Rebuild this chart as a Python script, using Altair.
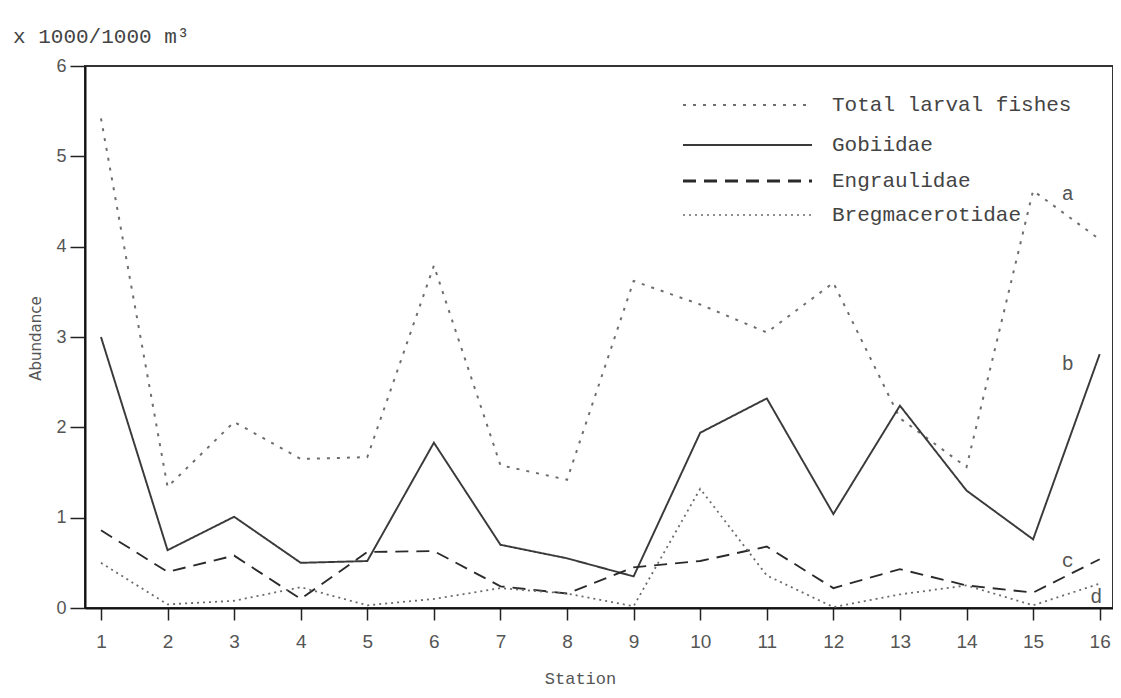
import altair as alt
import pandas as pd

# ---- data ----
stations = list(range(1, 17))
total_larval = [5.42, 1.34, 2.06, 1.65, 1.67, 3.79, 1.58, 1.42, 3.62, 3.36, 3.05, 3.60, 2.10, 1.56, 4.62, 4.08]
gobiidae = [3.00, 0.64, 1.01, 0.50, 0.52, 1.83, 0.70, 0.55, 0.35, 1.94, 2.32, 1.04, 2.24, 1.30, 0.76, 2.81]
engraulidae = [0.86, 0.40, 0.58, 0.10, 0.62, 0.63, 0.24, 0.16, 0.45, 0.52, 0.68, 0.22, 0.43, 0.25, 0.17, 0.54]
bregmacerotidae = [0.50, 0.04, 0.08, 0.23, 0.03, 0.10, 0.22, 0.16, 0.02, 1.32, 0.36, 0.01, 0.15, 0.25, 0.03, 0.27]

series_names = ["Total larval fishes", "Gobiidae", "Engraulidae", "Bregmacerotidae"]
series_values = [total_larval, gobiidae, engraulidae, bregmacerotidae]

ann_labels = ["a", "b", "c", "d"]
ann_x = [15.52, 15.52, 15.52, 15.95]
ann_y = [4.58, 2.70, 0.52, 0.12]

y_ticks = [0, 1, 2, 3, 4, 5, 6]

# ---- styles ----
colors = ["#6e6e6e", "#3a3a3a", "#2a2a2a", "#6a6a6a"]
dashes = [[3, 7], [1, 0], [13, 8], [2, 4]]
widths = [2.0, 1.8, 3.2, 1.5]

rows = []
for name, vals in zip(series_names, series_values):
    for s, v in zip(stations, vals):
        rows.append({"station": s, "value": v, "series": name})
df = pd.DataFrame(rows)

x_scale = alt.Scale(domain=[0.76, 16.2], nice=False, zero=False)
y_scale = alt.Scale(domain=[0, 6], nice=False)

lines = alt.Chart(df).mark_line(clip=False).encode(
    x=alt.X("station:Q", scale=x_scale,
            axis=alt.Axis(values=stations, format="d", title="Station", grid=False,
                          domainColor="#111", domainWidth=2, tickColor="#222", tickWidth=1.5,
                          tickSize=12, labelPadding=12, labelFont="Liberation Sans",
                          labelFontSize=19, labelColor="#555", labelFlush=False,
                          titleFont="Liberation Mono", titleFontSize=17, titleFontWeight="normal",
                          titleColor="#555", titleX=495, titleY=70, titleBaseline="middle",
                          titleAlign="center")),
    y=alt.Y("value:Q", scale=y_scale,
            axis=alt.Axis(values=y_ticks, format="d", title="Abundance", grid=False,
                          domainColor="#111", domainWidth=2, tickColor="#222", tickWidth=1.5,
                          tickSize=15, labelPadding=4, labelFont="Liberation Sans",
                          labelFontSize=18, labelColor="#555",
                          titleFont="DejaVu Sans", titleFontSize=15, titleFontWeight="normal",
                          titleColor="#555", titleX=-50, titleY=272, titleAngle=-90,
                          titleAlign="center", titleBaseline="middle")),
    color=alt.Color("series:N", scale=alt.Scale(domain=series_names, range=colors), legend=None),
    strokeDash=alt.StrokeDash("series:N", scale=alt.Scale(domain=series_names, range=dashes), legend=None),
    strokeWidth=alt.StrokeWidth("series:N", scale=alt.Scale(domain=series_names, range=widths), legend=None),
)

ann_df = pd.DataFrame({"label": ann_labels, "x": ann_x, "y": ann_y})
annotations = alt.Chart(ann_df).mark_text(
    font="Liberation Mono", fontSize=20, color="#555", baseline="middle"
).encode(x=alt.X("x:Q", scale=x_scale), y=alt.Y("y:Q", scale=y_scale), text="label:N")

# manual legend inside the plot area (top right)
legend_y = [39, 79, 115, 149]
legend_layers = []
for i, name in enumerate(series_names):
    d = pd.DataFrame({"series": [name]})
    legend_layers.append(
        alt.Chart(d).mark_rule(color=colors[i], strokeDash=dashes[i], strokeWidth=widths[i]).encode(
            x=alt.value(598), x2=alt.value(727), y=alt.value(legend_y[i])
        )
    )
    legend_layers.append(
        alt.Chart(d).mark_text(align="left", baseline="middle", font="Liberation Mono",
                               fontSize=21, color="#444").encode(
            x=alt.value(747), y=alt.value(legend_y[i]), text="series:N"
        )
    )

unit_df = pd.DataFrame({"t": ["x 1000/1000 m³"]})
unit_label = alt.Chart(unit_df).mark_text(
    align="left", baseline="middle", font="Liberation Mono", fontSize=21, color="#444"
).encode(x=alt.value(-72), y=alt.value(-29), text="t:N")

chart = alt.layer(lines, annotations, unit_label, *legend_layers).properties(
    width=1028, height=542,
    autosize=alt.AutoSizeParams(type="none"),
    padding={"left": 77, "top": 58, "right": 0, "bottom": 82},
    background="white",
).configure_view(stroke="#333", strokeWidth=2)

chart.save("out.html", embed_options={"renderer": "svg", "actions": False})
